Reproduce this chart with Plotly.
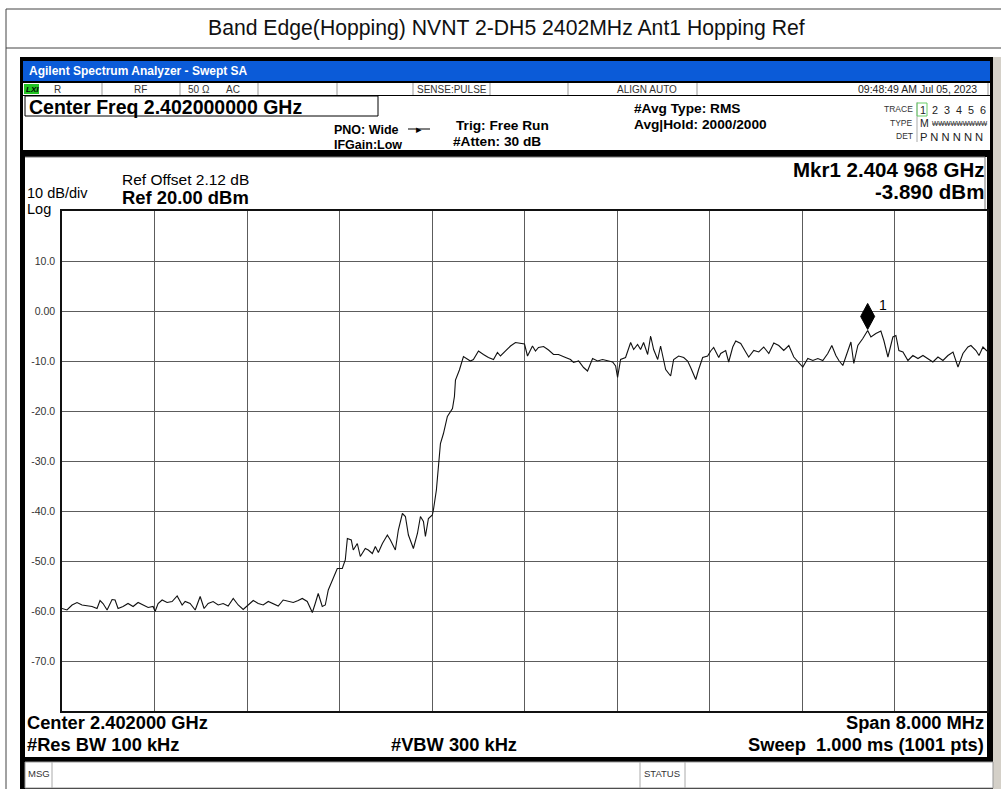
import plotly.graph_objects as go

# Spectrum analyzer screen capture: band edge, hopping reference sweep
START_MHZ = 2398.0
STOP_MHZ = 2406.0
REF_LEVEL = 20.0
BOTTOM_LEVEL = -80.0

freq_offset_mhz = [
    0.000, 0.043, 0.087, 0.130, 0.173, 0.216, 0.260, 0.303, 0.329, 0.355,
    0.390, 0.433, 0.459, 0.485, 0.528, 0.571, 0.615, 0.658, 0.701, 0.745,
    0.788, 0.805, 0.831, 0.866, 0.909, 0.952, 0.996, 1.039, 1.065, 1.108,
    1.152, 1.195, 1.229, 1.264, 1.307, 1.351, 1.394, 1.437, 1.481, 1.524,
    1.567, 1.610, 1.654, 1.697, 1.740, 1.784, 1.827, 1.870, 1.913, 1.957,
    2.000, 2.043, 2.078, 2.121, 2.165, 2.190, 2.216, 2.251, 2.277, 2.303,
    2.346, 2.381, 2.424, 2.450, 2.468, 2.502, 2.519, 2.554, 2.580, 2.623,
    2.649, 2.684, 2.710, 2.736, 2.771, 2.814, 2.840, 2.883, 2.909, 2.944,
    2.970, 2.996, 3.039, 3.074, 3.100, 3.126, 3.143, 3.169, 3.203, 3.212,
    3.238, 3.255, 3.273, 3.299, 3.333, 3.377, 3.394, 3.403, 3.437, 3.472,
    3.506, 3.532, 3.558, 3.602, 3.645, 3.688, 3.732, 3.766, 3.792, 3.835,
    3.879, 3.922, 3.965, 4.000, 4.026, 4.069, 4.095, 4.121, 4.165, 4.208,
    4.251, 4.294, 4.355, 4.398, 4.424, 4.468, 4.511, 4.545, 4.589, 4.632,
    4.675, 4.719, 4.762, 4.788, 4.805, 4.831, 4.874, 4.918, 4.944, 4.978,
    5.004, 5.030, 5.065, 5.091, 5.117, 5.152, 5.177, 5.221, 5.264, 5.290,
    5.333, 5.377, 5.411, 5.437, 5.481, 5.506, 5.541, 5.584, 5.610, 5.636,
    5.680, 5.697, 5.740, 5.766, 5.801, 5.827, 5.870, 5.913, 5.939, 5.983,
    6.026, 6.069, 6.113, 6.156, 6.199, 6.242, 6.286, 6.329, 6.372, 6.407,
    6.450, 6.494, 6.537, 6.580, 6.623, 6.658, 6.693, 6.719, 6.753, 6.797,
    6.823, 6.848, 6.883, 6.926, 6.968, 6.996, 7.039, 7.082, 7.108, 7.143,
    7.186, 7.212, 7.238, 7.273, 7.316, 7.359, 7.403, 7.446, 7.489, 7.532,
    7.576, 7.619, 7.662, 7.706, 7.749, 7.792, 7.835, 7.861, 7.905, 7.931,
    7.965, 7.991, 8.000,
]
level_dbm = [
    -59.5, -59.8, -58.8, -58.3, -58.8, -59.0, -59.1, -59.5, -57.9, -58.5,
    -59.8, -57.7, -57.8, -59.5, -59.1, -58.5, -59.1, -58.3, -58.8, -59.3,
    -59.1, -60.1, -58.5, -57.8, -58.3, -58.1, -57.0, -58.8, -58.1, -58.5,
    -59.8, -57.1, -59.5, -58.5, -58.1, -58.8, -58.5, -59.0, -57.5, -58.8,
    -59.7, -58.8, -57.9, -58.5, -58.8, -58.1, -58.5, -59.0, -57.8, -58.1,
    -58.3, -57.9, -57.5, -58.1, -60.3, -58.5, -56.5, -59.1, -58.8, -55.8,
    -53.5, -51.5, -51.5, -49.8, -45.5, -45.8, -47.8, -46.5, -49.1, -47.5,
    -47.8, -48.5, -47.1, -48.3, -46.5, -44.8, -45.8, -47.8, -43.8, -40.5,
    -41.1, -44.8, -47.5, -44.5, -41.1, -42.1, -45.1, -41.5, -40.8, -39.8,
    -35.8, -30.5, -26.5, -24.5, -21.1, -19.5, -17.1, -13.8, -11.8, -9.1,
    -9.7, -10.0, -9.7, -8.0, -8.7, -9.3, -9.7, -8.3, -9.0, -8.0,
    -7.0, -6.3, -6.4, -6.6, -9.0, -7.0, -8.0, -7.3, -7.1, -7.8,
    -8.7, -8.7, -9.3, -9.7, -10.3, -10.0, -11.3, -12.0, -9.5, -10.0,
    -9.7, -9.9, -10.2, -11.0, -13.3, -9.7, -9.3, -6.3, -7.7, -6.7,
    -7.7, -6.3, -8.7, -5.0, -7.7, -9.7, -7.0, -11.7, -13.0, -9.7,
    -9.0, -9.3, -10.0, -11.3, -13.7, -11.7, -9.3, -9.0, -8.0, -7.3,
    -9.3, -8.5, -7.9, -10.2, -7.2, -6.0, -6.5, -8.2, -9.2, -7.9,
    -8.2, -7.2, -8.5, -6.4, -6.9, -7.9, -6.9, -9.2, -10.2, -11.2,
    -9.5, -9.9, -9.5, -9.9, -8.5, -6.9, -8.9, -9.9, -10.9, -7.9,
    -6.2, -10.5, -6.9, -5.5, -3.89, -5.2, -4.5, -4.0, -5.9, -9.2,
    -5.2, -4.9, -7.9, -8.2, -9.9, -8.9, -9.5, -8.9, -9.5, -10.2,
    -9.2, -9.9, -8.9, -8.2, -11.2, -8.5, -7.2, -6.9, -7.9, -8.9,
    -7.2, -7.9, -8.0,
]

MARKER_FREQ_MHZ = 2404.968
MARKER_LEVEL_DBM = -3.890

x_grid_step = 0.8
y_tick_vals = [10, 0, -10, -20, -30, -40, -50, -60, -70]
y_tick_text = ["10.0", "0.00", "-10.0", "-20.0", "-30.0", "-40.0", "-50.0", "-60.0", "-70.0"]

freq_mhz = [START_MHZ + f for f in freq_offset_mhz]

# page geometry in pixels (plot area = instrument graticule)
W, H = 1001, 789
ML, MR, MT, MB = 62, 14, 211, 78
FONT = "Liberation Sans, Arial, sans-serif"


def px(x):
    return (x - ML) / (W - ML - MR)


def py(y):
    return (H - MB - y) / (H - MT - MB)


shapes = []
notes = []


def box(x0, y0, x1, y1, fill="rgba(0,0,0,0)", line=None, width=1):
    shapes.append(dict(type="rect", xref="paper", yref="paper", layer="below",
                       x0=px(x0), x1=px(x1), y0=py(y1), y1=py(y0), fillcolor=fill,
                       line=dict(color=line or "rgba(0,0,0,0)", width=width if line else 0)))


def seg(x0, y0, x1, y1, color="#888", width=1):
    shapes.append(dict(type="line", xref="paper", yref="paper", layer="below",
                       x0=px(x0), x1=px(x1), y0=py(y0), y1=py(y1),
                       line=dict(color=color, width=width)))


def label(x, y, s, size, bold=False, anchor="left", color="black", italic=False):
    notes.append(dict(xref="paper", yref="paper", x=px(x), y=py(y), text=s,
                      showarrow=False, xanchor=anchor, yanchor="middle",
                      borderpad=0,
                      font=dict(size=size, color=color, family=FONT,
                                weight="bold" if bold else "normal",
                                style="italic" if italic else "normal")))


# document frame around the screenshot
seg(6, 9, 1001, 9, "#444")
seg(6, 48, 1001, 48, "#444")
seg(6, 9, 6, 789, "#444")
label(506, 28, "Band Edge(Hopping) NVNT 2-DH5 2402MHz Ant1 Hopping Ref", 21.2,
      anchor="center", color="#111")

# instrument window
box(20, 57, 993, 789, fill="black")
box(993, 57, 1001, 789, fill="#d4d0c8")
box(23, 61, 990, 81, fill="#0b5bd8")
label(28, 71, "Agilent Spectrum Analyzer - Swept SA", 12, bold=True, color="white")

# status row
box(23, 83, 990, 95, fill="white")
for sx in [102, 180, 258, 337, 413, 490, 568, 697, 988]:
    seg(sx, 83, sx, 95, "#999")
box(24, 84, 39, 94, fill="#22c322")
label(25, 89, "LXI", 8, bold=True, italic=True)
label(53, 89, "R", 10, color="#333")
label(140, 89, "RF", 10, anchor="center", color="#333")
label(199, 89, "50 Ω", 10, anchor="center", color="#333")
label(233, 89, "AC", 10, anchor="center", color="#333")
label(452, 89, "SENSE:PULSE", 10, anchor="center", color="#333")
label(647, 89, "ALIGN AUTO", 10, anchor="center", color="#333")
label(978, 89, "09:48:49 AM Jul 05, 2023", 10.5, anchor="right", color="#222")

# header
box(23, 96, 990, 150, fill="white")
box(25, 96, 378, 116, fill="white", line="black")
label(28, 107, "Center Freq 2.402000000 GHz", 19.5, bold=True)
label(333, 130, "PNO: Wide", 12.5, bold=True)
label(333, 145, "IFGain:Low", 12.5, bold=True)
seg(408, 129, 430, 129, "black", 1)
label(419, 129, "▸", 11, anchor="center")
label(455, 125, "Trig: Free Run", 13.7, bold=True)
label(452, 141, "#Atten: 30 dB", 13.7, bold=True)
label(633, 108, "#Avg Type: RMS", 13.7, bold=True)
label(633, 124, "Avg|Hold: 2000/2000", 13.7, bold=True)
seg(917, 102, 917, 142, "#aaa")
box(917, 103, 927, 116, line="#6c6")
label(914, 109, "TRACE", 8.5, anchor="right", color="#333")
label(919, 110, "1&nbsp;&nbsp;2&nbsp;&nbsp;3&nbsp;&nbsp;4&nbsp;&nbsp;5&nbsp;&nbsp;6", 10.8, color="#222")
label(914, 123, "TYPE", 8.5, anchor="right", color="#333")
label(919, 123, "M", 10.5, color="#222")
label(931, 123, "<s>WWWWWWWWW</s>", 6.5, color="#222")
label(914, 136, "DET", 8.5, anchor="right", color="#333")
label(919, 137, "P N N N N N", 11.2, color="#222")

# graticule panel and message bar
box(25, 157, 987, 757, fill="white")
seg(25, 157, 985, 157, "#777")
seg(985, 157, 985, 211, "#777")
label(121, 180, "Ref Offset 2.12 dB", 15.5)
label(26, 193, "10 dB/div", 14.5)
label(26, 209, "Log", 14.5)
label(121, 197, "Ref 20.00 dBm", 18.4, bold=True)
label(985, 170, "Mkr1 2.404 968 GHz", 20.5, bold=True, anchor="right")
label(985, 192, "-3.890 dBm", 20.5, bold=True, anchor="right")
label(26, 722, "Center 2.402000 GHz", 18.3, bold=True)
label(26, 744, "#Res BW 100 kHz", 18.3, bold=True)
label(390, 744, "#VBW 300 kHz", 18.3, bold=True)
label(985, 722, "Span 8.000 MHz", 18.3, bold=True, anchor="right")
label(985, 744, "Sweep&nbsp;&nbsp;1.000 ms (1001 pts)", 18.3, bold=True, anchor="right")

box(25, 762, 993, 788, fill="white", line="#999")
seg(52, 762, 52, 788, "#aaa")
seg(640, 762, 640, 788, "#aaa")
seg(685, 762, 685, 788, "#aaa")
label(27, 773, "MSG", 9.5, color="#333")
label(662, 773, "STATUS", 9.5, anchor="center", color="#333")

# marker 1 diamond sitting on the trace peak
shapes.append(dict(type="path", xref="x", yref="y", xsizemode="pixel", ysizemode="pixel",
                   xanchor=MARKER_FREQ_MHZ, yanchor=MARKER_LEVEL_DBM,
                   path="M0,1 L7,14 L0,27 L-7,14 Z", fillcolor="black",
                   line=dict(color="black", width=1)))
notes.append(dict(x=MARKER_FREQ_MHZ, y=MARKER_LEVEL_DBM, xref="x", yref="y", text="1",
                  showarrow=False, xshift=15, yshift=25,
                  font=dict(size=14, color="black", family=FONT)))

fig = go.Figure()
fig.add_trace(go.Scatter(x=freq_mhz, y=level_dbm, mode="lines",
                         line=dict(color="#111", width=1.1), hoverinfo="skip",
                         showlegend=False))

fig.update_layout(
    width=W, height=H,
    margin=dict(l=ML, r=MR, t=MT, b=MB, pad=0),
    paper_bgcolor="white", plot_bgcolor="white",
    font=dict(family=FONT, color="black"),
    shapes=shapes, annotations=notes, showlegend=False,
)
fig.update_xaxes(range=[START_MHZ, STOP_MHZ], tick0=START_MHZ, dtick=x_grid_step,
                 showticklabels=False, ticks="", showgrid=True, gridcolor="#5c5c5c",
                 gridwidth=1, zeroline=False, showline=True, linecolor="#111",
                 linewidth=1.5, mirror=True, fixedrange=True)
fig.update_yaxes(range=[BOTTOM_LEVEL, REF_LEVEL], tickvals=y_tick_vals, ticktext=y_tick_text,
                 ticks="", showgrid=True, gridcolor="#5c5c5c", gridwidth=1,
                 zeroline=False, showline=True, linecolor="#111", linewidth=1.5,
                 mirror=True, tickfont=dict(size=10.5, color="#333"),
                 ticklabelstandoff=3, fixedrange=True)

fig.write_html("out.html", config={"displayModeBar": False},
               post_script="document.body.style.margin='0';document.body.style.overflow='hidden';")
